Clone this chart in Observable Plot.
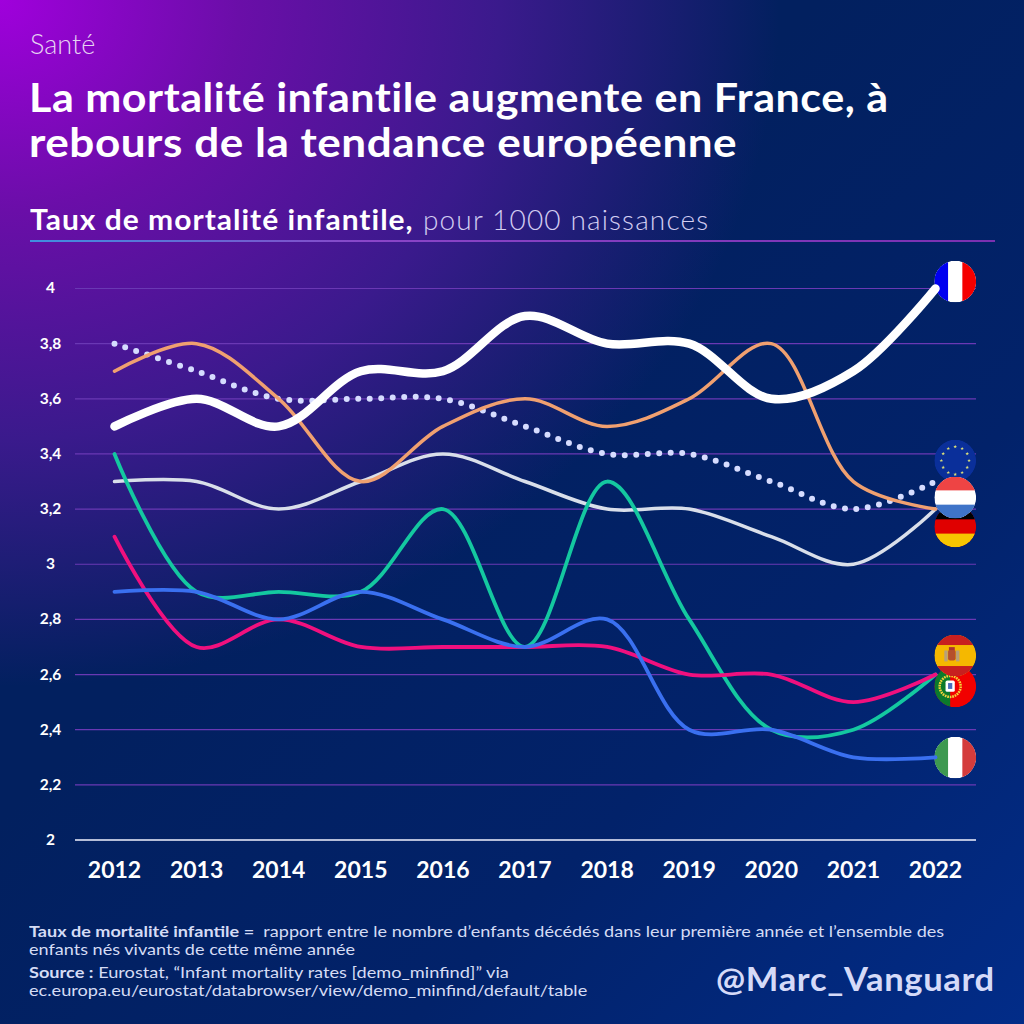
<!DOCTYPE html>
<html lang="fr"><head><meta charset="utf-8">
<script src="https://cdn.jsdelivr.net/npm/d3@7"></script>
<script src="https://cdn.jsdelivr.net/npm/@observablehq/plot@0.6"></script>
<style>
html,body{margin:0;padding:0;width:1024px;height:1024px;overflow:hidden}
body{position:relative;font-family:Lato,sans-serif;color:#fff;
background:radial-gradient(ellipse 1000px 880px at 0 0,#a000dc 0%,#6a0ea8 24%,#3a1a8c 50%,rgba(10,30,100,0) 78%),linear-gradient(135deg,#02205f 40%,#02226a 70%,#022c88 100%)}
.t{position:absolute;white-space:nowrap;transform-origin:0 50%}
#chart{position:absolute;left:0;top:0}
#chart svg{background:transparent!important;display:block}
</style></head><body>
<div class="t" style="left:30px;top:27px;font-size:27px;color:#e6d3f2;font-weight:300">Santé</div>
<div class="t" style="left:29px;top:74px;font-size:41px;font-weight:700;line-height:45px;letter-spacing:.5px;transform:scaleX(1.05)">La mortalité infantile augmente en France, à</div>
<div class="t" style="left:29px;top:119px;font-size:41px;font-weight:700;line-height:45px;letter-spacing:.5px;transform:scaleX(1.074)">rebours de la tendance européenne</div>
<div class="t" style="left:30px;top:203px;font-size:28px;line-height:32px;font-weight:700;letter-spacing:.95px;transform:scaleX(1.07)">Taux de mortalité infantile,</div>
<div class="t" style="left:423px;top:203px;font-size:28px;line-height:32px;font-weight:300;color:#d3cdf2;letter-spacing:1.15px">pour 1000 naissances</div>
<div style="position:absolute;left:30px;top:240px;width:965px;height:1.5px;background:linear-gradient(90deg,#3f8fe0,#8a45c8 35%,#7a30b0)"></div>
<div id="chart"></div>
<div class="t" style="left:29px;top:922px;font-size:16px;line-height:18px;color:#d5dcf5;transform:scaleX(1.129)"><b>Taux de mortalité infantile =</b>&nbsp; rapport entre le nombre d’enfants décédés dans leur première année et l’ensemble des<br>enfants nés vivants de cette même année</div>
<div class="t" style="left:29px;top:963px;font-size:16px;line-height:18px;color:#d5dcf5;transform:scaleX(1.135)"><b>Source :</b> Eurostat, “Infant mortality rates [demo_minfind]” via<br>ec.europa.eu/eurostat/databrowser/view/demo_minfind/default/table</div>
<div class="t" style="left:716px;top:959px;font-size:32px;font-weight:700;color:#d5daf8;letter-spacing:.6px;transform:scaleX(1.08)">@Marc_Vanguard</div>
<script>
const years=[2012,2013,2014,2015,2016,2017,2018,2019,2020,2021,2022];
const yTicks=[2,2.2,2.4,2.6,2.8,3,3.2,3.4,3.6,3.8,4];
const france=[3.5,3.6,3.5,3.7,3.7,3.9,3.8,3.8,3.6,3.7,4.0];
const ue=[3.8,3.7,3.6,3.6,3.6,3.5,3.4,3.4,3.3,3.2,3.3];
const paysBas=[3.7,3.8,3.6,3.3,3.5,3.6,3.5,3.6,3.8,3.3,3.2];
const allemagne=[3.3,3.3,3.2,3.3,3.4,3.3,3.2,3.2,3.1,3.0,3.2];
const portugal=[3.4,2.9,2.9,2.9,3.2,2.7,3.3,2.8,2.4,2.4,2.6];
const espagne=[3.1,2.7,2.8,2.7,2.7,2.7,2.7,2.6,2.6,2.5,2.6];
const italie=[2.9,2.9,2.8,2.9,2.8,2.7,2.8,2.4,2.4,2.3,2.3];
const flagNames=["ue","de","nl","pt","es","it","fr"];
const flagX=[2022.24,2022.24,2022.24,2022.24,2022.24,2022.24,2022.24];
const flagY=[3.376,3.137,3.242,2.557,2.669,2.299,4.025];

const star=(cx,cy,r)=>{let p=[];for(let i=0;i<10;i++){const a=-Math.PI/2+i*Math.PI/5,q=i%2?r*.42:r;p.push((cx+q*Math.cos(a)).toFixed(2)+","+(cy+q*Math.sin(a)).toFixed(2));}return `<polygon points="${p.join(" ")}" fill="#d8dc7a"/>`;};
const euStars=()=>{let s="";for(let i=0;i<12;i++){const a=i*Math.PI/6;s+=star(50+33*Math.cos(a),50+33*Math.sin(a),4.5);}return s;};
const flagArt={
 fr:`<rect width="100" height="100" fill="#fff"/><rect width="33" height="100" fill="#0000f0"/><rect x="67" width="33" height="100" fill="#f50000"/>`,
 it:`<rect width="100" height="100" fill="#fff"/><rect width="33" height="100" fill="#3d9950"/><rect x="67" width="33" height="100" fill="#d43c3c"/>`,
 de:`<rect width="100" height="100" fill="#e00000"/><rect width="100" height="33" fill="#000"/><rect y="67" width="100" height="33" fill="#f7c600"/>`,
 nl:`<rect width="100" height="100" fill="#fff"/><rect width="100" height="33" fill="#ee4444"/><rect y="67" width="100" height="33" fill="#3f74c8"/>`,
 es:`<rect width="100" height="100" fill="#f5b800"/><rect width="100" height="25" fill="#c81f1f"/><rect y="75" width="100" height="25" fill="#c81f1f"/><rect x="24" y="38" width="8" height="26" fill="#b8a07a"/><rect x="52" y="38" width="8" height="26" fill="#b8a07a"/><rect x="33" y="36" width="18" height="26" rx="5" fill="#b5502c"/><rect x="35" y="30" width="14" height="7" fill="#a33"/>`,
 pt:`<rect width="100" height="100" fill="#f20000"/><rect width="38" height="100" fill="#0b7a2c"/><circle cx="38" cy="50" r="25" fill="none" stroke="#f2d23a" stroke-width="6" stroke-dasharray="4 2"/><rect x="27" y="36" width="22" height="27" rx="4" fill="#fff"/><rect x="33" y="42" width="10" height="14" fill="#4a6fc0"/>`,
 ue:`<rect width="100" height="100" fill="#0a2f9a"/>${euStars()}`
};
const flagUri=k=>"data:image/svg+xml;charset=utf-8,"+encodeURIComponent(`<svg xmlns="http://www.w3.org/2000/svg" viewBox="0 0 100 100"><clipPath id="c"><circle cx="50" cy="50" r="50"/></clipPath><g clip-path="url(#c)">${flagArt[k]}</g></svg>`);

const series=(vals)=>years.map((x,i)=>({x,y:vals[i]}));
const curve="catmull-rom";
const line=(vals,stroke,strokeWidth,extra={})=>Plot.line(series(vals),{x:"x",y:"y",stroke,strokeWidth,curve,strokeLinecap:"round",...extra});
const flags=flagNames.map((k,i)=>({x:flagX[i],y:flagY[i],src:flagUri(k)}));

const plot=Plot.plot({
  width:1024,height:1024,marginLeft:75,marginRight:48,marginTop:0,marginBottom:0,
  style:{background:"transparent",fontFamily:"Lato,sans-serif"},
  x:{domain:[2012,2022],range:[114,935]},
  y:{domain:[2,4],range:[839.5,288]},
  marks:[
    Plot.ruleY(yTicks.slice(1),{stroke:"#6a38b4",strokeWidth:1.2}),
    Plot.ruleY([2],{stroke:"#f2f2ff",strokeWidth:1.5}),
    Plot.axisX({ticks:years,tickFormat:d=>String(d),tickSize:0,tickPadding:22,anchor:"bottom",frameAnchor:"bottom",y:2,fontSize:23,fontWeight:700,label:null,fill:"#fff",facetAnchor:null}),
    Plot.axisY({ticks:yTicks,tickFormat:d=>String(d).replace(".",","),tickSize:0,tickPadding:25,textAnchor:"middle",fontSize:15.5,fontWeight:700,fill:"#fff",label:null}),
    Plot.image(flags,{x:"x",y:"y",src:"src",r:21}),
    line(ue,"#d6dcff",6,{strokeDasharray:"0 11.5"}),
    line(allemagne,"#d9dfea",3.5),
    line(paysBas,"#f0a070",3.5),
    line(portugal,"#14c8a0",3.8),
    line(espagne,"#f0107e",3.8),
    line(italie,"#3a70f0",3.8),
    line(france,"#ffffff",8.5)
  ]
});
document.getElementById("chart").append(plot);
</script>
</body></html>
